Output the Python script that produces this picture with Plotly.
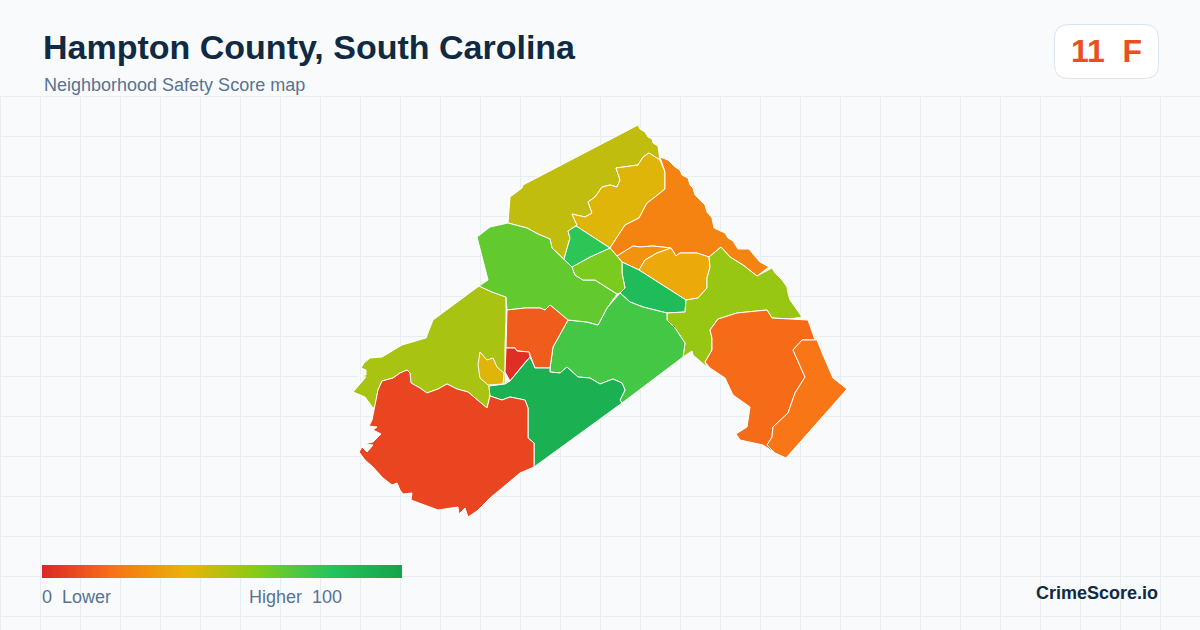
import plotly.graph_objects as go
from plotly.colors import sample_colorscale

TITLE = "Hampton County, South Carolina"
SUBTITLE = "Neighborhood Safety Score map"
BADGE = "11\u00a0\u00a0F"
LEGEND_LOW = "0\u00a0\u00a0Lower"
LEGEND_HIGH = "Higher\u00a0\u00a0100"
BRAND = "CrimeScore.io"

COLOR_STOPS = [[0.0, "#dc2626"], [0.2, "#f97316"], [0.4, "#eab308"],
               [0.6, "#84cc16"], [0.8, "#22c55e"], [1.0, "#16a34a"]]

# Neighborhood scores
scores = {
    "olive_left": 53, "small_yellow": 42, "top_olive": 48, "upper_yellow": 42,
    "ne_orange": 25, "mid_orange": 30, "amber": 37, "teal_green": 85,
    "east_lime": 56, "se_orange": 18, "coast_orange": 21, "central_green": 73,
    "west_green": 67, "small_lime": 62, "bright_green": 78, "core_orange": 14,
    "core_red": 2, "south_green": 92, "south_red": 8,
}

# Neighborhood outlines, in projected map units
top_olive = [(510,197),(522,188),(523,185),(590,150),(638,125),(640,129),(645,132),(648,137),(652,139),(653,143),(658,146),(660,160),(649,153),(643,157),(638,165),(616,168),(620,180),(617,187),(610,185),(602,187),(595,197),(588,202),(592,213),(585,217),(572,214),(577,225),(568,231),(570,238),(564,259),(562,257),(552,248),(550,239),(538,234),(527,228),(508,223)]
upper_yellow = [(649,153),(654,156),(660,160),(665,172),(665,189),(655,197),(647,203),(639,218),(625,225),(610,248),(590,235),(576,226),(577,225),(572,214),(585,217),(592,213),(588,202),(595,197),(602,187),(610,185),(617,187),(620,180),(616,168),(638,165),(643,157)]
ne_orange = [(660,157),(668,160),(675,167),(680,170),(682,175),(688,178),(690,185),(693,188),(695,195),(698,198),(705,205),(707,212),(712,218),(714,228),(725,233),(728,238),(733,241),(738,249),(749,249),(753,254),(760,262),(769,267),(757,276),(743,265),(730,257),(721,247),(709,257),(697,253),(680,253),(676,256),(671,248),(653,246),(640,247),(633,246),(617,256),(610,248),(625,225),(639,218),(647,203),(655,197),(665,189),(665,172)]
mid_orange = [(617,256),(633,246),(640,247),(653,246),(671,248),(657,253),(645,260),(639,270),(622,262)]
amber = [(671,248),(676,256),(680,253),(697,253),(709,257),(710,267),(707,278),(707,288),(698,298),(686,300),(639,270),(645,260),(657,253)]
teal_green = [(622,262),(639,270),(686,300),(685,312),(667,313),(643,307),(630,302),(620,293),(625,288),(622,273)]
east_lime = [(721,247),(730,257),(743,265),(757,276),(772,268),(775,273),(782,280),(787,287),(788,293),(790,300),(795,307),(802,317),(790,319),(772,318),(767,310),(737,313),(718,319),(710,330),(712,338),(712,350),(705,362),(708,368),(693,355),(692,351),(683,357),(685,343),(675,328),(667,320),(667,313),(685,312),(686,300),(698,298),(707,288),(707,278),(710,267),(709,257)]
se_orange = [(710,330),(718,319),(737,313),(767,310),(772,318),(790,319),(808,320),(815,340),(802,340),(793,350),(805,377),(795,393),(788,413),(773,427),(772,437),(767,445),(775,453),(785,457),(775,453),(763,445),(740,440),(736,434),(747,427),(750,407),(740,400),(733,395),(725,378),(710,368),(705,362),(712,350),(712,338)]
coast_orange = [(802,340),(815,340),(817,340),(823,355),(828,367),(833,378),(847,389),(786,458),(775,453),(767,445),(772,437),(773,427),(788,413),(795,393),(805,377),(793,350)]
central_green = [(568,320),(587,322),(598,325),(607,308),(620,293),(630,302),(643,307),(667,313),(667,320),(675,328),(685,343),(683,357),(622,403),(620,400),(625,390),(622,383),(613,379),(600,384),(590,378),(578,377),(567,367),(560,373),(550,372),(550,368),(553,347)]
west_green = [(508,223),(527,228),(538,234),(550,239),(552,248),(562,257),(564,259),(572,267),(575,275),(583,280),(595,280),(617,294),(607,308),(598,325),(587,322),(568,320),(550,305),(545,310),(540,308),(525,308),(507,310),(506,297),(492,292),(479,286),(488,280),(477,237),(490,227)]
small_lime = [(572,267),(590,257),(610,248),(617,256),(622,262),(622,273),(625,288),(620,293),(617,294),(595,280),(583,280),(575,275)]
bright_green = [(576,226),(590,235),(610,248),(590,257),(572,267),(564,259),(570,238),(568,231)]
core_orange = [(507,310),(525,308),(540,308),(545,310),(550,305),(568,320),(553,347),(550,368),(535,368),(529,352),(517,351),(515,348),(506,348)]
core_red = [(506,348),(515,348),(517,351),(529,352),(530,357),(522,366),(510,381),(505,372)]
south_green = [(489,386),(505,384),(510,381),(522,366),(530,357),(535,368),(550,368),(550,372),(560,373),(567,367),(578,377),(590,378),(600,384),(613,379),(622,383),(625,390),(620,400),(622,403),(534,467),(534,443),(528,438),(528,423),(528,408),(525,400),(510,397),(502,400),(490,396)]
south_red = [(490,396),(487,408),(468,392),(457,389),(447,384),(438,389),(427,393),(420,388),(411,383),(410,373),(407,370),(400,373),(393,378),(382,381),(378,390),(375,407),(372,420),(369,426),(377,427),(373,430),(381,434),(373,442),(364,444),(373,445),(367,452),(362,447),(359,452),(365,460),(373,467),(383,478),(392,485),(397,483),(400,490),(403,494),(412,493),(411,500),(425,505),(438,510),(458,507),(459,514),(465,508),(468,517),(477,511),(490,498),(520,473),(534,467),(534,443),(528,438),(528,423),(528,408),(525,400),(510,397),(502,400)]
olive_left = [(479,286),(492,292),(506,297),(506,320),(505,347),(505,384),(489,386),(490,396),(487,408),(468,392),(457,389),(447,384),(438,389),(427,393),(420,388),(411,383),(410,373),(407,370),(400,373),(393,378),(382,381),(378,390),(375,407),(373,408),(365,397),(353,392),(359,385),(366,377),(358,376),(366,375),(366,370),(361,368),(364,363),(370,358),(382,357),(402,345),(426,338),(433,320)]
small_yellow = [(480,352),(478,365),(480,378),(488,385),(503,384),(504,373),(497,367),(493,358),(487,360)]

outlines = {
    "olive_left": olive_left, "small_yellow": small_yellow, "top_olive": top_olive,
    "upper_yellow": upper_yellow, "ne_orange": ne_orange, "mid_orange": mid_orange,
    "amber": amber, "teal_green": teal_green, "east_lime": east_lime,
    "se_orange": se_orange, "coast_orange": coast_orange, "central_green": central_green,
    "west_green": west_green, "small_lime": small_lime, "bright_green": bright_green,
    "core_orange": core_orange, "core_red": core_red, "south_green": south_green,
    "south_red": south_red,
}

W, H = 1200, 630
BG = "#f8fafc"
GRID = "#e7eef3"
NAVY = "#102a43"
SLATE = "#587391"
ACCENT = "#e8501f"

fig = go.Figure()
for name, pts in outlines.items():
    s = scores[name]
    col = sample_colorscale(COLOR_STOPS, [s / 100])[0]
    xs = [p[0] for p in pts] + [pts[0][0]]
    ys = [p[1] for p in pts] + [pts[0][1]]
    fig.add_trace(go.Scatter(x=xs, y=ys, mode="lines", fill="toself", fillcolor=col,
                             line=dict(color="#ffffff", width=1), name=name,
                             text=f"{name}: {s}", hoverinfo="text", showlegend=False))

fig.add_trace(go.Scatter(
    x=[None], y=[None], mode="markers", showlegend=False, hoverinfo="skip",
    marker=dict(color=[0, 100], cmin=0, cmax=100, colorscale=COLOR_STOPS, showscale=True,
                colorbar=dict(orientation="h", lenmode="pixels", len=360, thicknessmode="pixels",
                              thickness=13, x=42 / W, xanchor="left", y=(H - 578) / H, yanchor="bottom",
                              xpad=0, ypad=0, outlinewidth=0, borderwidth=0, showticklabels=False, ticks=""))))


def txt(x, y, s, size, color, bold=False, anchor="left"):
    fig.add_annotation(xref="paper", yref="paper", x=x / W, y=1 - y / H, text=f"<b>{s}</b>" if bold else s,
                       showarrow=False, xanchor=anchor, yanchor="middle", xshift=0, borderpad=0, borderwidth=0,
                       font=dict(family="Liberation Sans, Arial, sans-serif", size=size, color=color))


txt(43, 47, TITLE, 34, NAVY, True)
txt(44, 85, SUBTITLE, 18, SLATE)
txt(1106, 51, BADGE, 32, ACCENT, True, "center")
txt(42, 597, LEGEND_LOW, 18, SLATE)
txt(249, 597, LEGEND_HIGH, 18, SLATE)
txt(1158, 593, BRAND, 18, NAVY, True, "right")

# badge box in paper coords
x0, x1, y0, y1, r = 1054.5 / W, 1158.5 / W, 1 - 78.5 / H, 1 - 24.5 / H, 14
rx, ry = r / W, r / H
path = (f"M {x0+rx} {y1} L {x1-rx} {y1} Q {x1} {y1} {x1} {y1-ry} L {x1} {y0+ry} Q {x1} {y0} {x1-rx} {y0} "
        f"L {x0+rx} {y0} Q {x0} {y0} {x0} {y0+ry} L {x0} {y1-ry} Q {x0} {y1} {x0+rx} {y1} Z")
fig.add_shape(type="path", path=path, xref="paper", yref="paper", fillcolor="#ffffff",
              line=dict(color="#dbe4ee", width=1), layer="below")

# the first grid rule on each axis sits on the plot edge, where the axis drops it
fig.add_shape(type="line", xref="x", yref="y", x0=0, x1=W, y0=96.5, y1=96.5, line=dict(color=GRID, width=1), layer="below")
fig.add_shape(type="line", xref="x", yref="y", x0=0.5, x1=0.5, y0=96, y1=H, line=dict(color=GRID, width=1), layer="below")

fig.update_layout(
    width=W, height=H, autosize=False, margin=dict(l=0, r=0, t=0, b=0, autoexpand=False),
    paper_bgcolor=BG, plot_bgcolor=BG, showlegend=False, hovermode="closest",
    xaxis=dict(range=[0, W], domain=[0, 1], tick0=0.5, dtick=40, showgrid=True, gridcolor=GRID, gridwidth=1,
               zeroline=False, showline=False, ticks="", showticklabels=False, fixedrange=True),
    yaxis=dict(range=[H, 96], domain=[0, (H - 96) / H], tick0=96.5, dtick=40, showgrid=True, gridcolor=GRID, gridwidth=1,
               zeroline=False, showline=False, ticks="", showticklabels=False, fixedrange=True),
)
fig.write_html("out.html", config={"displayModeBar": False},
               post_script="document.body.style.margin='0';document.documentElement.style.background='#f8fafc';")
